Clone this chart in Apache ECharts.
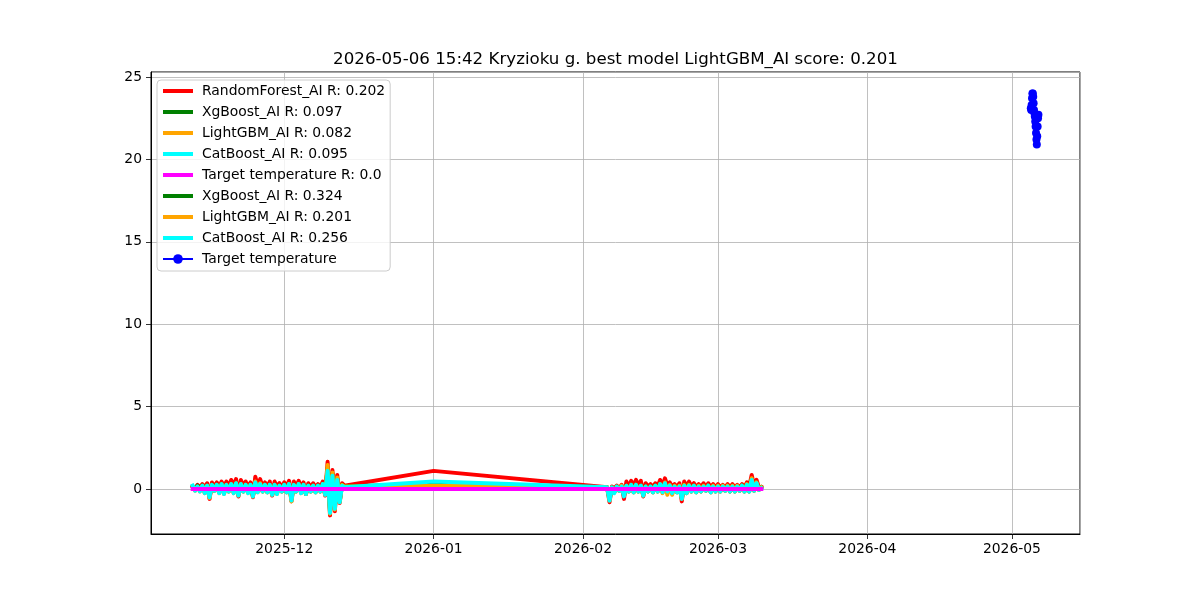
<!DOCTYPE html>
<html>
<head>
<meta charset="utf-8">
<script src="https://cdn.jsdelivr.net/npm/echarts@6/dist/echarts.min.js"></script>
<style>
html,body{margin:0;padding:0;background:#fff;}
#chart{width:1200px;height:600px;}
</style>
</head>
<body>
<div id="chart"></div>
<script>
// ---- data ----
const titleText = '2026-05-06 15:42 Kryzioku g. best model LightGBM_AI score: 0.201';
const legendNames = [
  'RandomForest_AI R: 0.202',
  'XgBoost_AI R: 0.097',
  'LightGBM_AI R: 0.082',
  'CatBoost_AI R: 0.095',
  'Target temperature R: 0.0',
  'XgBoost_AI R: 0.324',
  'LightGBM_AI R: 0.201',
  'CatBoost_AI R: 0.256',
  'Target temperature'
];
// sampling grid of the residual periods (every 12 hours)
const period1Start = '2025-11-12T00:00:00';
const period2Start = '2026-02-06T00:00:00';
const sampleHours = 12;
const gapPoint = '2026-01-01T00:00:00';

const redP1 = [0.15,0.05, 0.25,0.1, 0.3,0.1, 0.35,-0.6, 0.4,0.15, 0.4,0.1, 0.45,0.15, 0.45,0.15, 0.55,0.2, 0.6,-0.45, 0.55,0.2, 0.45,0.15, 0.4,-0.5, 0.75,0.2, 0.6,0.15, 0.4,0.15, 0.45,-0.4, 0.45,0.15, 0.35,0.1, 0.4,0.15, 0.5,-0.75, 0.45,0.15, 0.5,0.15, 0.4,-0.3, 0.35,0.1, 0.35,0.1, 0.3,0.1, 0.45,-0.4, 1.65,-1.6, 1.15,-1.35, 0.85,-0.85, 0.35,0.2];
const greenP1 = [0.15,-0.05, 0.2,-0.1, 0.2,-0.2, 0.2,-0.45, 0.25,-0.1, 0.25,-0.2, 0.3,-0.25, 0.25,-0.15, 0.3,-0.2, 0.35,-0.35, 0.3,-0.15, 0.25,-0.2, 0.25,-0.4, 0.4,-0.15, 0.3,-0.15, 0.25,-0.2, 0.25,-0.3, 0.25,-0.25, 0.2,-0.15, 0.25,-0.2, 0.3,-0.6, 0.25,-0.15, 0.3,-0.2, 0.25,-0.3, 0.2,-0.15, 0.2,-0.2, 0.2,-0.15, 0.3,-0.3, 1.3,-1.35, 0.95,-1.1, 0.65,-0.75, 0.25,0.15];
const orangeP1 = [0.15,-0.1, 0.15,-0.15, 0.2,-0.25, 0.2,-0.55, 0.25,-0.1, 0.25,-0.25, 0.3,-0.3, 0.25,-0.15, 0.3,-0.25, 0.35,-0.4, 0.3,-0.15, 0.25,-0.25, 0.25,-0.45, 0.45,-0.2, 0.35,-0.15, 0.25,-0.2, 0.25,-0.35, 0.25,-0.3, 0.2,-0.15, 0.25,-0.2, 0.3,-0.75, 0.25,-0.15, 0.3,-0.25, 0.25,-0.3, 0.2,-0.15, 0.2,-0.2, 0.2,-0.15, 0.3,-0.35, 1.45,-1.5, 1.0,-1.25, 0.7,-0.8, 0.25,0.15];
const cyanP1 = [0.2,-0.1, 0.15,-0.15, 0.2,-0.25, 0.2,-0.5, 0.25,-0.1, 0.25,-0.25, 0.3,-0.3, 0.25,-0.15, 0.3,-0.25, 0.35,-0.4, 0.3,-0.15, 0.25,-0.25, 0.25,-0.45, 0.4,-0.2, 0.3,-0.15, 0.25,-0.2, 0.25,-0.35, 0.25,-0.3, 0.2,-0.15, 0.25,-0.2, 0.3,-0.7, 0.25,-0.15, 0.3,-0.25, 0.25,-0.3, 0.2,-0.15, 0.2,-0.2, 0.2,-0.15, 0.3,-0.35, 1.1,-1.45, 0.8,-1.2, 0.55,-0.8, 0.2,0.1];

const redGap = 1.1, greenGap = 0.3, orangeGap = 0.2, cyanGap = 0.45;

const redP2 = [0.1,-0.8, 0.15,0.05, 0.2,0.05, 0.25,-0.6, 0.45,0.15, 0.5,0.2, 0.55,0.2, 0.5,-0.45, 0.35,0.15, 0.3,0.1, 0.35,0.15, 0.55,0.2, 0.65,0.2, 0.4,0.15, 0.3,0.1, 0.35,-0.75, 0.45,0.15, 0.45,0.15, 0.35,0.1, 0.3,0.1, 0.35,0.1, 0.35,0.1, 0.3,0.1, 0.3,0.1, 0.25,0.1, 0.3,0.1, 0.3,0.1, 0.25,0.1, 0.3,0.1, 0.4,0.15, 0.85,0.2, 0.55,0.1, 0.1];
const greenP2 = [0.1,-0.6, 0.1,-0.2, 0.15,-0.1, 0.15,-0.4, 0.2,-0.15, 0.25,-0.2, 0.25,-0.15, 0.2,-0.35, 0.15,-0.15, 0.15,-0.2, 0.2,-0.15, 0.3,-0.2, 0.35,-0.15, 0.2,-0.25, 0.15,-0.2, 0.15,-0.55, 0.25,-0.25, 0.25,-0.15, 0.2,-0.2, 0.15,-0.15, 0.15,-0.1, 0.2,-0.2, 0.15,-0.15, 0.15,-0.15, 0.15,-0.1, 0.15,-0.15, 0.15,-0.15, 0.15,-0.1, 0.2,-0.15, 0.25,-0.15, 0.6,-0.1, 0.35,-0.05, 0.1];
const orangeP2 = [0.1,-0.7, 0.1,-0.2, 0.15,-0.1, 0.2,-0.4, 0.2,-0.15, 0.25,-0.2, 0.25,-0.15, 0.2,-0.4, 0.15,-0.15, 0.15,-0.2, 0.2,-0.15, 0.3,-0.25, 0.4,-0.35, 0.25,-0.35, 0.2,-0.2, 0.2,-0.6, 0.25,-0.25, 0.25,-0.15, 0.2,-0.2, 0.2,-0.15, 0.2,-0.1, 0.2,-0.2, 0.2,-0.15, 0.2,-0.15, 0.2,-0.1, 0.2,-0.15, 0.2,-0.15, 0.2,-0.1, 0.2,-0.15, 0.3,-0.15, 0.65,-0.1, 0.4,-0.05, 0.1];
const cyanP2 = [0.1,-0.7, 0.1,-0.25, 0.15,-0.1, 0.15,-0.45, 0.2,-0.15, 0.25,-0.2, 0.25,-0.15, 0.2,-0.4, 0.15,-0.15, 0.15,-0.2, 0.2,-0.15, 0.3,-0.2, 0.35,-0.15, 0.2,-0.25, 0.15,-0.2, 0.15,-0.6, 0.2,-0.25, 0.2,-0.15, 0.2,-0.2, 0.15,-0.15, 0.15,-0.1, 0.2,-0.2, 0.15,-0.15, 0.15,-0.15, 0.15,-0.1, 0.15,-0.15, 0.15,-0.15, 0.15,-0.1, 0.2,-0.15, 0.25,-0.15, 0.55,-0.1, 0.35,-0.05, 0.05];

const targetResidTimes = ['2025-11-12T00:00:00','2025-12-13T12:00:00','2026-01-01T00:00:00','2026-02-06T00:00:00','2026-03-10T00:00:00'];
const targetResidValues = [0, 0, 0, 0, 0];

const targetTimes = ['2026-05-04T22:00:00','2026-05-05T00:00:00','2026-05-05T02:00:00','2026-05-05T04:00:00','2026-05-05T06:00:00','2026-05-05T08:00:00','2026-05-05T10:00:00','2026-05-05T12:00:00','2026-05-05T14:00:00','2026-05-05T16:00:00','2026-05-05T18:00:00','2026-05-05T20:00:00','2026-05-05T22:00:00','2026-05-06T00:00:00','2026-05-06T02:00:00','2026-05-06T04:00:00','2026-05-06T06:00:00','2026-05-06T08:00:00','2026-05-06T10:00:00','2026-05-06T12:00:00'];
const targetValues = [23.1, 23.0, 23.3, 23.7, 24.0, 24.0, 23.8, 23.4, 23.0, 22.8, 22.6, 22.3, 22.0, 21.6, 21.2, 20.9, 21.4, 22.0, 22.5, 22.7];

const xMin = '2025-11-03T08:30:00';
const xMax = '2026-05-15T03:00:00';
const yMin = -2.73, yMax = 25.3;

// ---- build ----
function grid(start, n) {
  const t0 = Date.parse(start);
  const out = [];
  for (let i = 0; i < n; i++) out.push(t0 + i * sampleHours * 3600 * 1000);
  return out;
}
const t1 = grid(period1Start, redP1.length);
const t2 = grid(period2Start, redP2.length);
const allTimes = t1.concat([Date.parse(gapPoint)], t2);
function pairs(times, vals) { return vals.map((v, i) => [times[i], v]); }
function residual(p1, gap, p2) { return pairs(allTimes, p1.concat([gap], p2)); }

const LW = 4;
function lineSeries(name, color, data) {
  return { name, type: 'line', data, symbol: 'none', showSymbol: false,
    lineStyle: { color, width: LW, join: 'round', cap: 'square' }, itemStyle: { color }, animation: false };
}
const series = [
  lineSeries(legendNames[0], '#ff0000', residual(redP1, redGap, redP2)),
  lineSeries(legendNames[1], '#008000', residual(greenP1, greenGap, greenP2)),
  lineSeries(legendNames[2], '#ffa500', residual(orangeP1, orangeGap, orangeP2)),
  lineSeries(legendNames[3], '#00ffff', residual(cyanP1, cyanGap, cyanP2)),
  lineSeries(legendNames[4], '#ff00ff', pairs(targetResidTimes.map(Date.parse), targetResidValues)),
  lineSeries(legendNames[5], '#008000', []),
  lineSeries(legendNames[6], '#ffa500', []),
  lineSeries(legendNames[7], '#00ffff', []),
  { name: legendNames[8], type: 'line', data: pairs(targetTimes.map(Date.parse), targetValues),
    symbol: 'circle', symbolSize: 8, showSymbol: true,
    lineStyle: { color: '#0000ff', width: 1.5 }, itemStyle: { color: '#0000ff' }, animation: false }
];

const FONT = 'DejaVu Sans';
const lineIcon = 'path://M0,0 L30,0 L30,4 L0,4 Z';
const chart = echarts.init(document.getElementById('chart'), null, { renderer: 'canvas' });
chart.setOption({
  animation: false,
  backgroundColor: '#ffffff',
  title: { text: titleText, left: 610.5, top: 46, textAlign: 'center',
    textStyle: { fontFamily: FONT, fontSize: 16.67, fontWeight: 'normal', color: '#000' } },
  grid: { left: 151, right: 120, top: 72, bottom: 66, show: true, borderColor: '#000', borderWidth: 1, backgroundColor: 'transparent' },
  legend: {
    data: legendNames.map((n, i) => i < 8 ? { name: n, icon: lineIcon } : { name: n }),
    orient: 'vertical', left: 157, top: 80,
    itemWidth: 30, itemHeight: 12, itemGap: 5, symbolKeepAspect: true,
    padding: [3, 5, 4, 5],
    backgroundColor: 'rgba(255,255,255,0.8)', borderColor: '#cccccc', borderWidth: 1, borderRadius: 4,
    textStyle: { fontFamily: FONT, fontSize: 13.9, color: '#000', lineHeight: 16, padding: [0, 0, 0, 4] },
    selectedMode: false
  },
  xAxis: {
    type: 'time', min: Date.parse(xMin), max: Date.parse(xMax), splitNumber: 6,
    axisLine: { show: true, onZero: false, lineStyle: { color: '#000', width: 1 } },
    axisTick: { show: true, inside: false, length: 5, lineStyle: { color: '#000', width: 0.8 } },
    axisLabel: { fontFamily: FONT, fontSize: 13.9, color: '#000', margin: 8, hideOverlap: false,
      showMinLabel: false, showMaxLabel: false,
      formatter: v => echarts.time.format(v, '{yyyy}-{MM}', false) },
    splitLine: { show: true, lineStyle: { color: '#b0b0b0', width: 0.8 } },
    minorTick: { show: false }
  },
  yAxis: {
    type: 'value', min: yMin, max: yMax, splitNumber: 6,
    axisLine: { show: true, onZero: false, lineStyle: { color: '#000', width: 1 } },
    axisTick: { show: true, inside: false, length: 5, lineStyle: { color: '#000', width: 0.8 } },
    axisLabel: { fontFamily: FONT, fontSize: 13.9, color: '#000', margin: 9,
      showMinLabel: false, showMaxLabel: false,
      formatter: v => (Math.abs(v % 5) < 1e-9 ? String(v) : '') },
    splitLine: { show: true, lineStyle: { color: '#b0b0b0', width: 0.8 } }
  },
  series
});
</script>
</body>
</html>
